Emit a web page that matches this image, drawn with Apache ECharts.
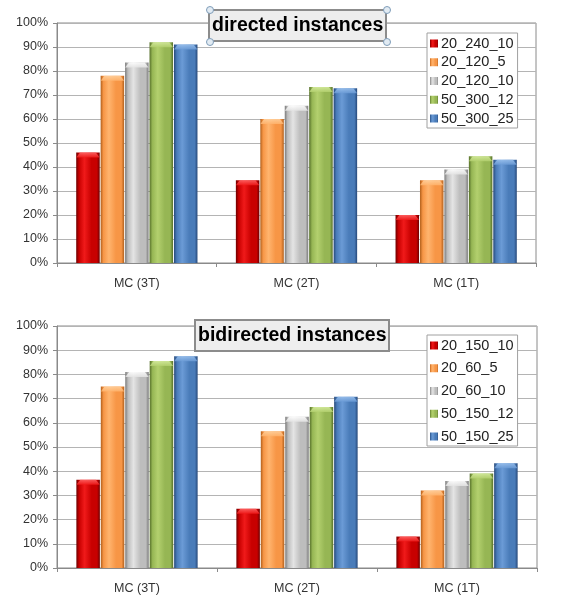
<!DOCTYPE html>
<html>
<head>
<meta charset="utf-8">
<script src="https://cdn.jsdelivr.net/npm/echarts@6/dist/echarts.min.js"></script>
<style>
  html, body { margin: 0; padding: 0; background: #ffffff; }
  #chart { width: 561px; height: 600px; }
</style>
</head>
<body>
<div id="chart"></div>
<script>
// Categories shared by both panels
const categories = ['MC (3T)', 'MC (2T)', 'MC (1T)'];

// Directed instances (percent)
const directedNames = ['20_240_10', '20_120_5', '20_120_10', '50_300_12', '50_300_25'];
const dir_20_240_10 = [46, 34.5, 20];
const dir_20_120_5  = [78, 60, 34.5];
const dir_20_120_10 = [83.5, 65.5, 39];
const dir_50_300_12 = [92, 73.3, 44.5];
const dir_50_300_25 = [91, 72.8, 43];

// Bidirected instances (percent)
const bidirectedNames = ['20_150_10', '20_60_5', '20_60_10', '50_150_12', '50_150_25'];
const bid_20_150_10 = [36.5, 24.5, 13];
const bid_20_60_5   = [75, 56.5, 32];
const bid_20_60_10  = [81, 62.5, 36];
const bid_50_150_12 = [85.5, 66.5, 39];
const bid_50_150_25 = [87.5, 70.8, 43.3];

// Value axis ticks
const yMin = 0, yMax = 100, yStep = 10;

const directedValues = [dir_20_240_10, dir_20_120_5, dir_20_120_10, dir_50_300_12, dir_50_300_25];
const bidirectedValues = [bid_20_150_10, bid_20_60_5, bid_20_60_10, bid_50_150_12, bid_50_150_25];

// Bevelled bar shading: dark edges, bright band left of centre
const shades = [
  { dark: '#6e0000', base: '#c80000', light: '#f01a1a', cap: '#ff6a6a' },
  { dark: '#b2601c', base: '#f79646', light: '#ffb46e', cap: '#ffd2a0' },
  { dark: '#7a7a7a', base: '#bdbdbd', light: '#e4e4e4', cap: '#ffffff' },
  { dark: '#56702a', base: '#96b654', light: '#b3d06e', cap: '#d6eca0' },
  { dark: '#27497a', base: '#4a7cb9', light: '#6b9bd6', cap: '#9cc2ee' }
];
function barFill(s) {
  return new echarts.graphic.LinearGradient(0, 0, 1, 0, [
    { offset: 0, color: s.dark },
    { offset: 0.12, color: s.base },
    { offset: 0.35, color: s.light },
    { offset: 0.65, color: s.base },
    { offset: 0.88, color: s.base },
    { offset: 1, color: s.dark }
  ]);
}
function capFill(s) {
  return new echarts.graphic.LinearGradient(0, 0, 0, 1, [
    { offset: 0, color: s.cap },
    { offset: 1, color: s.light }
  ]);
}

const font = 'Liberation Sans, Arial, sans-serif';
const gridColor = '#b4b4b4';
const axisColor = '#8a8a8a';
const barW = 23.5;
const barGapRatio = 0.04;
const capPath = 'path://M0,6 L4,0 L20,0 L24,6 Z';

function makeXAxis(gridIndex) {
  return {
    type: 'category', gridIndex, data: categories,
    axisLine: { lineStyle: { color: axisColor } },
    axisTick: { show: true, length: 4, lineStyle: { color: axisColor } },
    axisLabel: { color: '#333', fontFamily: font, fontSize: 12.5, margin: 14 }
  };
}
function makeYAxis(gridIndex) {
  return {
    type: 'value', gridIndex, min: yMin, max: yMax, interval: yStep,
    axisLine: { show: true, lineStyle: { color: axisColor } },
    axisTick: { show: true, length: 4, lineStyle: { color: axisColor } },
    axisLabel: { color: '#333', fontFamily: font, fontSize: 12.5, margin: 9, formatter: '{value}%' },
    splitLine: { lineStyle: { color: gridColor } }
  };
}

const series = [];
function addPanel(names, values, axisIndex) {
  names.forEach((name, i) => {
    series.push({
      name, type: 'bar', xAxisIndex: axisIndex, yAxisIndex: axisIndex, data: values[i],
      barWidth: barW, barGap: (barGapRatio * 100) + '%',
      itemStyle: { color: barFill(shades[i]) }
    });
  });
  // bevelled caps on the bar tops
  names.forEach((name, i) => {
    series.push({
      type: 'pictorialBar', xAxisIndex: axisIndex, yAxisIndex: axisIndex, data: values[i],
      symbol: capPath, symbolSize: [barW, 5], symbolPosition: 'end',
      symbolOffset: [(i - 2) * barW * (1 + barGapRatio), 0],
      itemStyle: { color: capFill(shades[i]), opacity: 0.85 },
      z: 3, silent: true, legendHoverLink: false
    });
  });
}
addPanel(directedNames, directedValues, 0);
addPanel(bidirectedNames, bidirectedValues, 1);

function makeTitle(text, left, top) {
  return {
    text, left, top,
    backgroundColor: '#eeeeee', borderColor: '#8c8c8c', borderWidth: 2,
    padding: [3, 3],
    textStyle: { fontFamily: font, fontWeight: 'bold', fontSize: 19.5, color: '#000', lineHeight: 25 }
  };
}

function makeLegend(data, top, gap) {
  return {
    data, orient: 'vertical', left: 427, top,
    icon: 'rect', itemWidth: 8, itemHeight: 8, itemGap: gap,
    backgroundColor: '#ffffff', borderColor: '#a0a0a0', borderWidth: 1,
    padding: [3, 4, 2, 3],
    selectedMode: false,
    textStyle: { fontFamily: font, fontSize: 14.5, color: '#222', lineHeight: 15, padding: [0, 0, 0, -2] }
  };
}

// Selection handles at the corners of the upper title box
const handlePts = [[210, 10], [387, 10], [210, 42], [387, 42]];
const handles = handlePts.map(p => ({
  type: 'circle', shape: { cx: p[0], cy: p[1], r: 3.5 },
  style: { fill: '#e2ebf3', stroke: '#7f9db9', lineWidth: 1 }, z: 100
}));

const chart = echarts.init(document.getElementById('chart'), null, { renderer: 'canvas' });
chart.setOption({
  backgroundColor: '#ffffff',
  animation: false,
  title: [
    makeTitle('directed instances', 209, 10),
    makeTitle('bidirected instances', 195, 320)
  ],
  legend: [
    makeLegend(directedNames, 33, 3.75),
    makeLegend(bidirectedNames, 335, 7.75)
  ],
  grid: [
    { left: 57, top: 23, width: 479, height: 240, show: true, borderColor: axisColor, borderWidth: 1, backgroundColor: 'transparent' },
    { left: 57, top: 326, width: 480, height: 242, show: true, borderColor: axisColor, borderWidth: 1, backgroundColor: 'transparent' }
  ],
  xAxis: [makeXAxis(0), makeXAxis(1)],
  yAxis: [makeYAxis(0), makeYAxis(1)],
  series,
  graphic: handles
});
</script>
</body>
</html>
